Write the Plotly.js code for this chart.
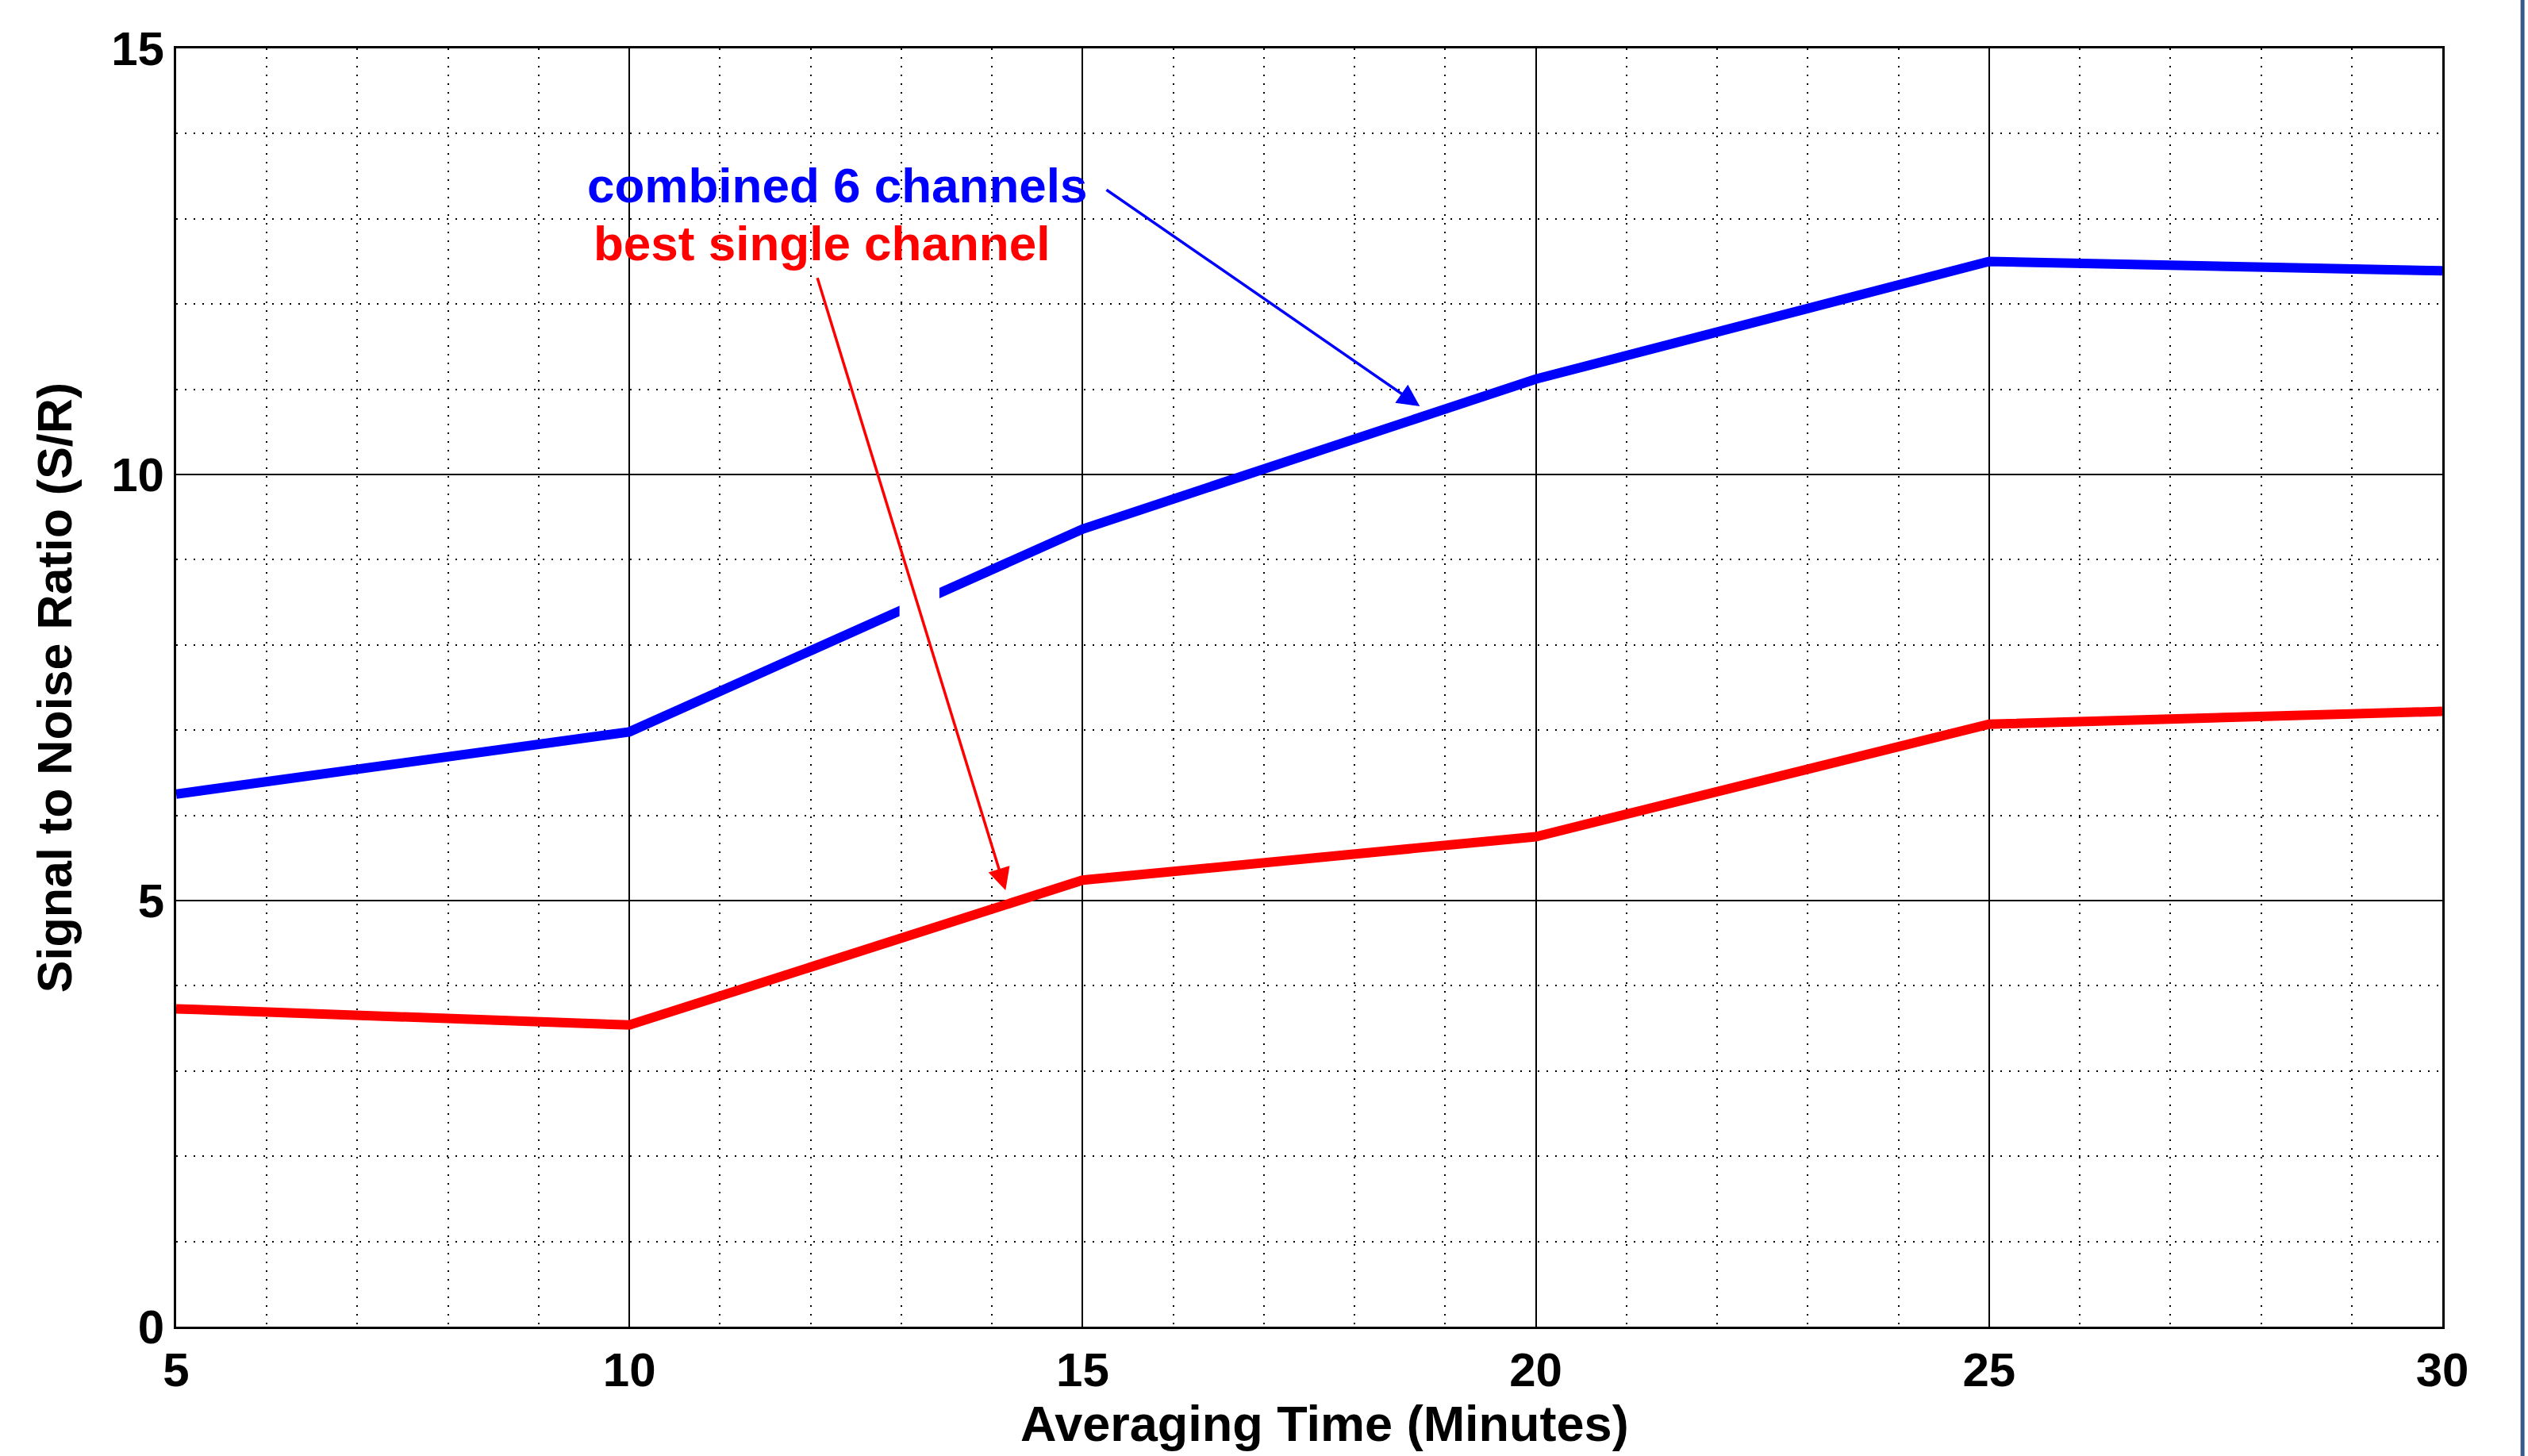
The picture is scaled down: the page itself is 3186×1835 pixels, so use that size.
<!DOCTYPE html>
<html>
<head>
<meta charset="utf-8">
<script src="https://cdn.plot.ly/plotly-3.0.1.min.js"></script>
<style>html,body{margin:0;padding:0;background:#fff;}#chart{width:3186px;height:1835px;}</style>
</head>
<body>
<div id="chart"></div>
<script>
// ---- data ----
const averagingTime = [5, 10, 15, 20, 25, 30];
const combinedSixChannels = [6.25, 6.98, 9.36, 11.12, 12.50, 12.39];
const bestSingleChannel = [3.73, 3.54, 5.24, 5.75, 7.07, 7.22];
const xTicks = [5, 10, 15, 20, 25, 30];
const yTicks = [0, 5, 10, 15];
const labelCombined = "combined 6 channels";
const labelBest = "best single channel";
const xTitle = "Averaging Time (Minutes)";
const yTitle = "Signal to Noise Ratio (S/R)";

const FONT = "Liberation Sans, Arial, Helvetica, sans-serif";
const dotted = "2px,9px";

const traces = [
  {x: averagingTime, y: combinedSixChannels, mode: "lines", line: {color: "#0000FF", width: 12}, showlegend: false, hoverinfo: "none"},
  {x: averagingTime, y: bestSingleChannel, mode: "lines", line: {color: "#FF0000", width: 12}, showlegend: false, hoverinfo: "none"}
];

const axisCommon = {
  showline: true, mirror: true, linecolor: "#000", linewidth: 3,
  showgrid: true, gridcolor: "#000", gridwidth: 2,
  zeroline: false, ticks: "",
  tickfont: {family: FONT, size: 60, color: "#000", weight: "bold"}
};

const layout = {
  width: 3186, height: 1835,
  margin: {l: 222, r: 108, t: 61, b: 163},
  paper_bgcolor: "#fff", plot_bgcolor: "#fff",
  xaxis: Object.assign({}, axisCommon, {
    range: [5, 30], tickvals: xTicks, ticktext: xTicks.map(String),
    minor: {dtick: 1, showgrid: true, gridcolor: "#000", gridwidth: 2, griddash: dotted}
  }),
  yaxis: Object.assign({}, axisCommon, {
    range: [0, 15], tickvals: yTicks, ticktext: yTicks.map(String),
    minor: {dtick: 1, showgrid: true, gridcolor: "#000", gridwidth: 2, griddash: dotted},
    title: {text: yTitle, font: {family: FONT, size: 61, color: "#000", weight: "bold"}, standoff: 30}
  }),
  shapes: [
    // gap in the blue curve where the label box sat
    {type: "rect", xref: "x", yref: "y", x0: 12.98, x1: 13.42, y0: 8.27, y1: 8.74, fillcolor: "#fff", line: {width: 0}, layer: "above"},
    // frame edge at the right of the picture
    {type: "line", xref: "paper", yref: "paper", x0: 1.0354, x1: 1.0354, y0: -0.2, y1: 1.2, line: {color: "#3A5A8C", width: 5}}
  ],
  annotations: [
    {xref: "paper", yref: "paper", x: 0.507, y: -0.0757, xanchor: "center", yanchor: "middle", text: xTitle, showarrow: false,
     font: {family: FONT, size: 63, color: "#000", weight: "bold"}},
    {xref: "x", yref: "y", x: 9.52, y: 13.39, xanchor: "left", yanchor: "middle", text: labelCombined, showarrow: false,
     font: {family: FONT, size: 62, color: "#0000FF", weight: "bold"}},
    {xref: "x", yref: "y", x: 9.59, y: 12.71, xanchor: "left", yanchor: "middle", text: labelBest, showarrow: false,
     font: {family: FONT, size: 62, color: "#FF0000", weight: "bold"}},
    {xref: "x", yref: "y", axref: "x", ayref: "y", x: 18.72, y: 10.80, ax: 15.25, ay: 13.35, text: "",
     showarrow: true, arrowhead: 2, arrowsize: 1.6, arrowwidth: 3.5, arrowcolor: "#0000FF", standoff: 0, startstandoff: 0},
    {xref: "x", yref: "y", axref: "x", ayref: "y", x: 14.15, y: 5.12, ax: 12.07, ay: 12.32, text: "",
     showarrow: true, arrowhead: 2, arrowsize: 1.6, arrowwidth: 3.5, arrowcolor: "#FF0000", standoff: 0, startstandoff: 0}
  ]
};

Plotly.newPlot("chart", traces, layout, {staticPlot: true, displayModeBar: false});
</script>
</body>
</html>
